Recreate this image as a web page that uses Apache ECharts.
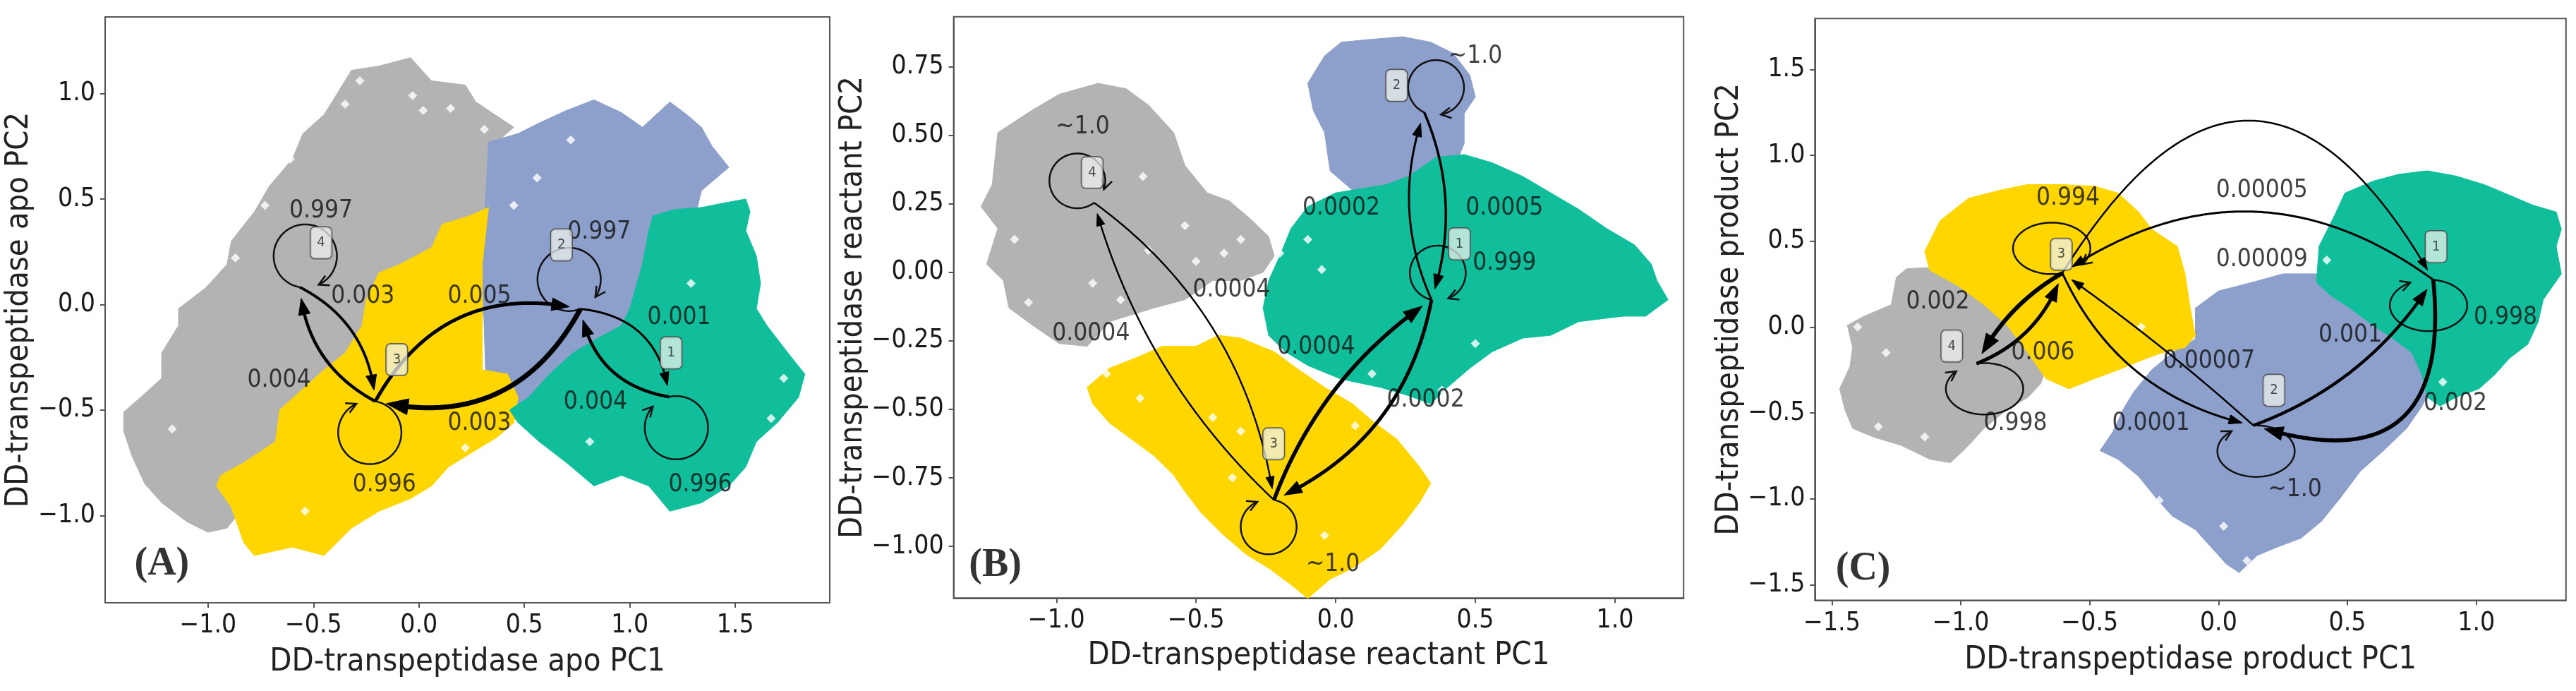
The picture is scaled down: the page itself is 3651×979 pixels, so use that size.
<!DOCTYPE html>
<html><head><meta charset="utf-8">
<script src="https://cdn.jsdelivr.net/npm/echarts@6/dist/echarts.min.js"></script>
<style>html,body{margin:0;padding:0;background:#fff;}#c{width:3651px;height:979px;}</style>
</head><body><div id="c"></div>
<script>
// ================= DATA =================
// ---- Panel A : apo ----
const aCloud4 = [[-1.40,-0.51],[-1.32,-0.44],[-1.22,-0.35],[-1.22,-0.23],[-1.14,-0.10],[-1.14,-0.02],[-1.01,0.08],[-0.91,0.19],[-0.89,0.30],[-0.78,0.44],[-0.71,0.56],[-0.60,0.69],[-0.55,0.81],[-0.45,0.90],[-0.40,0.98],[-0.32,1.11],[-0.19,1.13],[-0.04,1.17],[0.06,1.06],[0.22,1.04],[0.27,0.96],[0.39,0.88],[0.45,0.84],[0.37,0.77],[0.37,0.44],[0.32,-0.02],[0.06,-0.44],[-0.45,-0.65],[-0.83,-0.96],[-0.91,-1.06],[-1.00,-1.08],[-1.10,-1.03],[-1.22,-0.94],[-1.30,-0.85],[-1.36,-0.72],[-1.40,-0.60]];
const aCloud2 = [[0.33,0.77],[0.47,0.81],[0.57,0.86],[0.70,0.92],[0.83,0.97],[0.96,0.91],[1.06,0.84],[1.19,0.96],[1.27,0.90],[1.34,0.84],[1.39,0.75],[1.47,0.65],[1.34,0.54],[1.32,0.46],[1.24,-0.02],[0.96,-0.44],[0.57,-0.56],[0.43,-0.54],[0.32,-0.44],[0.30,0.19]];
const aCloud3 = [[0.33,0.46],[0.30,0.19],[0.30,-0.31],[0.42,-0.33],[0.47,-0.44],[0.45,-0.56],[0.37,-0.63],[0.27,-0.69],[0.14,-0.77],[0.06,-0.86],[-0.04,-0.92],[-0.19,-0.98],[-0.32,-1.06],[-0.45,-1.19],[-0.60,-1.15],[-0.78,-1.19],[-0.83,-1.13],[-0.89,-0.96],[-0.96,-0.86],[-0.94,-0.81],[-0.83,-0.75],[-0.68,-0.65],[-0.66,-0.50],[-0.55,-0.40],[-0.45,-0.31],[-0.35,-0.23],[-0.27,-0.10],[-0.25,0.02],[-0.19,0.15],[-0.09,0.19],[0.06,0.27],[0.11,0.38],[0.24,0.42]];
const aCloud1 = [[1.11,0.42],[1.21,0.45],[1.34,0.46],[1.44,0.48],[1.55,0.50],[1.57,0.44],[1.55,0.35],[1.60,0.23],[1.62,0.10],[1.60,-0.02],[1.65,-0.10],[1.75,-0.23],[1.83,-0.33],[1.80,-0.44],[1.70,-0.56],[1.60,-0.65],[1.55,-0.77],[1.47,-0.86],[1.34,-0.94],[1.19,-0.98],[1.09,-0.86],[0.96,-0.81],[0.83,-0.86],[0.70,-0.75],[0.57,-0.65],[0.47,-0.56],[0.43,-0.50],[0.52,-0.44],[0.62,-0.33],[0.73,-0.23],[0.83,-0.17],[0.96,-0.10],[1.00,-0.02],[1.06,0.19],[1.09,0.35]];
const aHoles = [[-0.28,1.06],[-0.35,0.95],[-0.03,0.99],[0.02,0.92],[0.15,0.93],[0.31,0.83],[-0.61,0.69],[-0.73,0.47],[-1.16,0.02],[-1.22,-0.19],[-1.29,-0.34],[-1.17,-0.59],[-0.87,0.22],[0.56,0.60],[0.45,0.47],[0.72,0.78],[1.29,0.10],[1.73,-0.35],[0.81,-0.65],[1.67,-0.54],[0.22,-0.68],[-0.54,-0.98]];
const aNodes = [[1.187,-0.438],[0.766,-0.021],[-0.207,-0.459],[-0.565,0.082]];
const aEdges = [[4,3],[3,4],[3,2],[2,3],[2,1],[1,2]];
const aEdgeProb = ['0.003','0.004','0.005','0.003','0.001','0.004'];
const aSelfProb = ['0.996','0.997','0.996','0.997'];
const aEdgeLabelPos = [[-0.266,0.038],[-0.663,-0.359],[0.287,0.038],[0.287,-0.564],[1.234,-0.063],[0.837,-0.463]];
const aSelfLabelPos = [[1.334,-0.856],[0.855,0.344],[-0.164,-0.856],[-0.464,0.443]];
const aBoxPos = [[1.196,-0.230],[0.676,0.282],[-0.105,-0.261],[-0.464,0.292]];
const aTicksX = [-1.0,-0.5,0.0,0.5,1.0,1.5];
const aTicksY = [-1.0,-0.5,0.0,0.5,1.0];

// ---- Panel B : reactant ----
const bCloud4 = [[-1.27,0.24],[-1.23,0.32],[-1.21,0.51],[-1.09,0.59],[-0.99,0.65],[-0.85,0.69],[-0.75,0.67],[-0.67,0.61],[-0.58,0.51],[-0.54,0.39],[-0.46,0.29],[-0.38,0.26],[-0.30,0.19],[-0.24,0.13],[-0.22,0.06],[-0.26,0.00],[-0.34,-0.03],[-0.44,-0.03],[-0.54,-0.10],[-0.65,-0.13],[-0.81,-0.18],[-0.89,-0.27],[-0.99,-0.26],[-1.09,-0.19],[-1.17,-0.13],[-1.19,-0.03],[-1.25,0.03],[-1.21,0.16]];
const bCloud2 = [[-0.10,0.69],[-0.04,0.79],[0.02,0.84],[0.12,0.85],[0.24,0.86],[0.34,0.84],[0.42,0.80],[0.48,0.72],[0.50,0.64],[0.46,0.58],[0.46,0.47],[0.44,0.42],[0.26,0.32],[0.14,0.29],[0.06,0.30],[-0.02,0.37],[-0.04,0.51],[-0.08,0.59]];
const bCloud3 = [[-0.89,-0.42],[-0.81,-0.35],[-0.71,-0.31],[-0.62,-0.27],[-0.50,-0.27],[-0.42,-0.23],[-0.34,-0.24],[-0.22,-0.29],[-0.14,-0.35],[-0.04,-0.42],[0.06,-0.48],[0.14,-0.55],[0.22,-0.61],[0.30,-0.71],[0.34,-0.77],[0.30,-0.84],[0.24,-0.92],[0.16,-1.01],[0.06,-1.08],[-0.02,-1.12],[-0.10,-1.19],[-0.16,-1.14],[-0.24,-1.08],[-0.32,-1.03],[-0.40,-0.96],[-0.48,-0.88],[-0.54,-0.80],[-0.58,-0.74],[-0.65,-0.67],[-0.73,-0.61],[-0.81,-0.55],[-0.87,-0.48]];
const bCloud1 = [[0.00,0.29],[0.18,0.32],[0.26,0.35],[0.36,0.42],[0.46,0.43],[0.56,0.40],[0.67,0.35],[0.77,0.29],[0.87,0.23],[0.97,0.16],[1.07,0.10],[1.13,0.03],[1.15,-0.03],[1.19,-0.10],[1.11,-0.16],[1.03,-0.16],[0.87,-0.18],[0.77,-0.23],[0.67,-0.24],[0.56,-0.29],[0.48,-0.35],[0.40,-0.42],[0.34,-0.48],[0.26,-0.45],[0.16,-0.42],[0.02,-0.39],[-0.10,-0.34],[-0.18,-0.29],[-0.24,-0.23],[-0.26,-0.13],[-0.24,-0.03],[-0.20,0.06],[-0.16,0.16],[-0.10,0.24]];
const bHoles = [[-1.15,0.12],[-0.69,0.35],[-0.87,-0.04],[-0.67,0.08],[-0.54,0.17],[-0.40,0.07],[-0.34,0.12],[-0.50,0.04],[-0.77,-0.10],[-1.10,-0.11],[-0.20,0.07],[-0.10,0.12],[-0.05,0.01],[0.50,-0.26],[0.13,-0.37],[0.38,-0.43],[-0.82,-0.37],[-0.70,-0.46],[-0.44,-0.53],[-0.34,-0.58],[-0.37,-0.75],[0.07,-0.56],[-0.04,-0.96]];
const bNodes = [[0.343,-0.100],[0.317,0.584],[-0.221,-0.831],[-0.865,0.254]];
const bEdges = [[2,1],[1,2],[3,1],[1,3],[4,3],[3,4]];
const bEdgeProb = ['0.0005','0.0002','0.0004','0.0002','0.0004','0.0004'];
const bSelfProb = ['0.999','~1.0','~1.0','~1.0'];
const bEdgeLabelPos = [[0.604,0.233],[0.020,0.233],[-0.070,-0.273],[0.322,-0.466],[-0.373,-0.064],[-0.876,-0.225]];
const bSelfLabelPos = [[0.604,0.032],[0.500,0.787],[-0.010,-1.068],[-0.906,0.530]];
const bBoxPos = [[0.443,0.104],[0.218,0.682],[-0.222,-0.626],[-0.872,0.364]];
const bTicksX = [-1.0,-0.5,0.0,0.5,1.0];
const bTicksY = [-1.0,-0.75,-0.5,-0.25,0.0,0.25,0.5,0.75];

// ---- Panel C : product ----
const cCloud4 = [[-1.44,0.01],[-1.38,0.06],[-1.27,0.13],[-1.25,0.29],[-1.21,0.34],[-1.08,0.35],[-0.95,0.26],[-0.82,0.11],[-0.71,-0.05],[-0.66,-0.20],[-0.69,-0.33],[-0.74,-0.41],[-0.82,-0.48],[-0.91,-0.59],[-0.97,-0.69],[-1.04,-0.79],[-1.12,-0.77],[-1.23,-0.69],[-1.34,-0.64],[-1.42,-0.59],[-1.45,-0.48],[-1.47,-0.36],[-1.43,-0.23],[-1.42,-0.12]];
const cCloud2 = [[-0.33,-0.38],[-0.26,-0.25],[-0.18,-0.15],[-0.09,-0.07],[-0.09,0.11],[0.00,0.21],[0.13,0.26],[0.25,0.31],[0.38,0.31],[0.60,0.06],[0.77,-0.15],[0.83,-0.33],[0.79,-0.46],[0.73,-0.59],[0.64,-0.72],[0.55,-0.84],[0.47,-1.00],[0.40,-1.13],[0.32,-1.23],[0.23,-1.28],[0.15,-1.33],[0.08,-1.43],[0.03,-1.38],[-0.03,-1.28],[-0.09,-1.18],[-0.18,-1.10],[-0.24,-1.00],[-0.31,-0.87],[-0.39,-0.77],[-0.46,-0.72],[-0.41,-0.61],[-0.37,-0.48]];
const cCloud3 = [[-1.14,0.44],[-1.08,0.62],[-0.97,0.75],[-0.84,0.80],[-0.74,0.83],[-0.61,0.83],[-0.48,0.82],[-0.39,0.78],[-0.31,0.67],[-0.26,0.57],[-0.16,0.47],[-0.13,0.31],[-0.11,0.11],[-0.09,-0.05],[-0.13,-0.12],[-0.22,-0.15],[-0.31,-0.20],[-0.39,-0.25],[-0.48,-0.30],[-0.58,-0.36],[-0.67,-0.30],[-0.74,-0.15],[-0.82,0.01],[-0.91,0.13],[-1.01,0.24],[-1.12,0.33]];
const cCloud1 = [[0.38,0.26],[0.39,0.47],[0.45,0.65],[0.49,0.78],[0.60,0.85],[0.70,0.89],[0.81,0.91],[0.92,0.88],[1.03,0.83],[1.11,0.78],[1.22,0.71],[1.31,0.67],[1.33,0.57],[1.31,0.47],[1.33,0.31],[1.26,0.16],[1.24,0.03],[1.20,-0.10],[1.13,-0.18],[1.07,-0.28],[1.01,-0.36],[0.92,-0.41],[0.86,-0.46],[0.81,-0.41],[0.79,-0.28],[0.75,-0.15],[0.68,-0.07],[0.60,0.01],[0.51,0.11],[0.43,0.19]];
const cHoles = [[-0.30,0.00],[-0.13,0.46],[-0.23,-1.01],[0.02,-1.16],[0.11,-1.36],[0.61,-0.99],[0.42,0.39],[0.87,-0.32],[-1.40,0.00],[-1.29,-0.15],[-1.32,-0.58],[-1.14,-0.64]];
const cNodes = [[0.833,0.275],[0.135,-0.573],[-0.606,0.314],[-0.939,-0.213]];
const cEdges = [[3,1],[1,3],[3,2],[2,3],[2,1],[1,2],[3,4],[4,3]];
const cEdgeProb = ['0.00005','0.00009','0.0001','0.00007','0.001','0.002','0.002','0.006'];
const cSelfProb = ['0.998','~1.0','0.994','0.998'];
const cEdgeLabelPos = [[0.168,0.797],[0.168,0.391],[-0.262,-0.560],[-0.037,-0.201],[0.511,-0.046],[0.919,-0.445],[-1.089,0.147],[-0.681,-0.149]];
const cSelfLabelPos = [[1.113,0.057],[0.296,-0.946],[-0.584,0.751],[-0.788,-0.560]];
const cBoxPos = [[0.844,0.468],[0.215,-0.368],[-0.610,0.424],[-1.035,-0.111]];
const cTicksX = [-1.5,-1.0,-0.5,0.0,0.5,1.0];
const cTicksY = [-1.5,-1.0,-0.5,0.0,0.5,1.0,1.5];

const stateNames = ['1','2','3','4'];
const panelNames = ['(A)','(B)','(C)'];
const panelNamePos = [[-1.219,-1.232],[-1.219,-1.070],[-1.379,-1.409]];

// ================= STYLE =================
const COL = {1:'#10be9c', 2:'#8da0cb', 3:'#ffd600', 4:'#b3b3b3'};
const FONT = "'DejaVu Sans Condensed','Liberation Sans',sans-serif";
const aEdgeBend = [0.28,0.27,0.37,0.38,0.40,0.35], aEdgeWidth = [3.8,4.4,5,7,3,4.4], aLoopDir = [77,-111,100,-80], aLoopR = 0.15;
const bEdgeBend = [0.19,0.20,0.16,0.26,0.21,0.14], bEdgeWidth = [3.5,3,5.5,5,2.4,2.4], bLoopDir = [-77,-65,101,-127], bLoopR = 0.10;
const cEdgeBend = [0.84,-0.35,-0.25,-0.03,-0.17,0.76,-0.15,-0.23], cEdgeWidth = [2.5,3,3,2.5,4.4,5.6,6,5], cLoopDir = [97,86,-106,78], cLoopR = 0.15;

// ================= HELPERS =================
function cloudSeries(gi, poly, color){
  return {type:'custom', xAxisIndex:gi, yAxisIndex:gi, z:1, silent:true, animation:false,
    dimensions:['x','y'], encode:{x:0,y:1}, data:poly,
    renderItem:(params, api)=>{
      if(params.dataIndex!==0) return null;
      return {type:'polygon', shape:{points:poly.map(p=>api.coord(p))}, style:{fill:color, stroke:color, lineWidth:1}};
    }};
}
function holeSeries(gi, pts){
  return {type:'scatter', xAxisIndex:gi, yAxisIndex:gi, z:2, silent:true, animation:false,
    symbol:'diamond', symbolSize:13, itemStyle:{color:'#fff'}, data:pts};
}
function bez(p0,c,p2,t){const u=1-t;return [u*u*p0[0]+2*u*t*c[0]+t*t*p2[0], u*u*p0[1]+2*u*t*c[1]+t*t*p2[1]];}
function edgeSeries(gi, nodes, edges, bend, width){
  return {type:'custom', xAxisIndex:gi, yAxisIndex:gi, z:4, silent:true, animation:false,
    dimensions:['x1','y1','x2','y2'], encode:{x:[0,2], y:[1,3]},
    data: edges.map(e=>[nodes[e[0]-1][0],nodes[e[0]-1][1],nodes[e[1]-1][0],nodes[e[1]-1][1]]),
    renderItem:(params, api)=>{
      const i=params.dataIndex;
      const p0=api.coord([api.value(0),api.value(1)]);
      const p2=api.coord([api.value(2),api.value(3)]);
      const rad=bend[i], w=width[i];
      const dx=p2[0]-p0[0], dy=p2[1]-p0[1];
      const c=[(p0[0]+p2[0])/2+rad*dy,(p0[1]+p2[1])/2-rad*dx];
      const N=200, pts=[];
      for(let k=0;k<=N;k++) pts.push(bez(p0,c,p2,k/N));
      const shrink=16, hl=10+3*w, hw=3+1.2*w;
      function pointAt(dist){let acc=0;for(let k=N;k>0;k--){const a=pts[k],b=pts[k-1];const s=Math.hypot(a[0]-b[0],a[1]-b[1]);if(acc+s>=dist){const f=(dist-acc)/(s||1);return {idx:k-1,p:[a[0]+(b[0]-a[0])*f,a[1]+(b[1]-a[1])*f]};}acc+=s;}return {idx:0,p:pts[0]};}
      const tip=pointAt(shrink), base=pointAt(shrink+hl);
      const ux=tip.p[0]-base.p[0], uy=tip.p[1]-base.p[1], L=Math.hypot(ux,uy)||1;
      const nx=-uy/L, ny=ux/L;
      const line=pts.slice(0,base.idx+1); line.push([base.p[0]+ux/L*2, base.p[1]+uy/L*2]);
      return {type:'group', children:[
        {type:'polyline', shape:{points:line}, style:{stroke:'#000', lineWidth:w, fill:null, lineJoin:'round'}},
        {type:'polygon', shape:{points:[tip.p,[base.p[0]+nx*hw,base.p[1]+ny*hw],[base.p[0]-nx*hw,base.p[1]-ny*hw]]}, style:{fill:'#000', stroke:'#000', lineWidth:1}}
      ]};
    }};
}
function loopSeries(gi, nodes, dirs, r){
  return {type:'custom', xAxisIndex:gi, yAxisIndex:gi, z:4, silent:true, animation:false,
    dimensions:['x','y'], encode:{x:0,y:1}, data:nodes.map(n=>[n[0],n[1]]),
    renderItem:(params, api)=>{
      const i=params.dataIndex;
      const np=api.coord([api.value(0),api.value(1)]);
      const sz=api.size([r,r],[api.value(0),api.value(1)]);
      const rx=Math.abs(sz[0]), ry=Math.abs(sz[1]);
      const phi=dirs[i]*Math.PI/180;
      const cx=np[0]+rx*Math.cos(phi), cy=np[1]+ry*Math.sin(phi);
      const th0=phi+Math.PI, sweep=325*Math.PI/180, N=90, pts=[];
      for(let k=0;k<=N;k++){const th=th0+sweep*k/N;pts.push([cx+rx*Math.cos(th),cy+ry*Math.sin(th)]);}
      const the=th0+sweep; let tx=-rx*Math.sin(the), ty=ry*Math.cos(the); const L=Math.hypot(tx,ty); tx/=L; ty/=L;
      const tip=pts[N], hl=16, a=28*Math.PI/180;
      const h1=[tip[0]-hl*(tx*Math.cos(a)-ty*Math.sin(a)), tip[1]-hl*(tx*Math.sin(a)+ty*Math.cos(a))];
      const h2=[tip[0]-hl*(tx*Math.cos(a)+ty*Math.sin(a)), tip[1]-hl*(-tx*Math.sin(a)+ty*Math.cos(a))];
      return {type:'group', children:[
        {type:'polyline', shape:{points:pts}, style:{stroke:'#111', lineWidth:2.5, fill:null}},
        {type:'polyline', shape:{points:[h1,tip,h2]}, style:{stroke:'#111', lineWidth:2.5, fill:null}}
      ]};
    }};
}
function textSeries(gi, pos, texts, style, z){
  return {type:'scatter', xAxisIndex:gi, yAxisIndex:gi, z:z, silent:true, animation:false,
    symbol:'circle', symbolSize:1, itemStyle:{color:'rgba(0,0,0,0)'},
    data:pos.map(p=>[p[0],p[1]]),
    label:Object.assign({show:true, position:'inside', formatter:p=>texts[p.dataIndex]}, style)};
}
const edgeLabelStyle = {fontSize:35, color:'#111', fontFamily:FONT};
const boxStyle = {fontSize:20, color:'#222', fontFamily:FONT, backgroundColor:'rgba(238,241,238,0.92)', borderColor:'#444', borderWidth:1.5, borderRadius:6, padding:[12,9]};
const panelStyle = {fontSize:56, fontWeight:'bold', color:'#000', fontFamily:"'Liberation Serif','DejaVu Serif',serif"};

function fmt(dec){return v=>v.toFixed(dec).replace('-','\u2212');}
function xAxisCfg(gi,min,max,ticks,name,gap){
  return {type:'value', gridIndex:gi, min:min, max:max, name:name, nameLocation:'middle', nameGap:gap,
    nameTextStyle:{fontSize:45, color:'#222', fontFamily:FONT},
    axisLine:{show:true, onZero:false, lineStyle:{color:'#555', width:2}},
    axisTick:{show:true, inside:false, length:7, lineStyle:{color:'#555', width:2}, customValues:ticks},
    axisLabel:{show:true, customValues:ticks, formatter:fmt(1), fontSize:37, margin:14, color:'#1a1a1a', fontFamily:FONT},
    splitLine:{show:false}};
}
function yAxisCfg(gi,min,max,ticks,dec,name,gap){
  return {type:'value', gridIndex:gi, min:min, max:max, name:name, nameLocation:'middle', nameGap:gap, nameRotate:90,
    nameTextStyle:{fontSize:45, color:'#222', fontFamily:FONT},
    axisLine:{show:true, onZero:false, lineStyle:{color:'#555', width:2}},
    axisTick:{show:true, inside:false, length:7, lineStyle:{color:'#555', width:2}, customValues:ticks},
    axisLabel:{show:true, customValues:ticks, formatter:fmt(dec), fontSize:37, margin:14, color:'#1a1a1a', fontFamily:FONT},
    splitLine:{show:false}};
}
function panel(gi, clouds, holes, nodes, edges, eProb, sProb, ePos, sPos, bPos, bend, width, ldir, lr){
  return [
    cloudSeries(gi, clouds[3], COL[4]),
    cloudSeries(gi, clouds[1], COL[2]),
    cloudSeries(gi, clouds[2], COL[3]),
    cloudSeries(gi, clouds[0], COL[1]),
    holeSeries(gi, holes),
    loopSeries(gi, nodes, ldir, lr),
    edgeSeries(gi, nodes, edges, bend, width),
    textSeries(gi, ePos, eProb, edgeLabelStyle, 6),
    textSeries(gi, sPos, sProb, edgeLabelStyle, 6),
    textSeries(gi, bPos, stateNames, boxStyle, 7),
    textSeries(gi, [panelNamePos[gi]], [panelNames[gi]], panelStyle, 7)
  ];
}

const chart = echarts.init(document.getElementById('c'), null, {renderer:'canvas'});
chart.setOption({
  animation:false, backgroundColor:'#fff',
  grid:[
    {left:149, top:24, width:1027, height:830, show:true, borderColor:'#555', borderWidth:2, backgroundColor:'#fff'},
    {left:1351.6, top:23.7, width:1034.6, height:823.6, show:true, borderColor:'#555', borderWidth:2, backgroundColor:'#fff'},
    {left:2572.3, top:26.2, width:1064.5, height:824.2, show:true, borderColor:'#555', borderWidth:2, backgroundColor:'#fff'}
  ],
  xAxis:[
    xAxisCfg(0,-1.488,1.948,aTicksX,'DD-transpeptidase apo PC1',62),
    xAxisCfg(1,-1.368,1.2456,bTicksX,'DD-transpeptidase reactant PC1',60),
    xAxisCfg(2,-1.566,1.348,cTicksX,'DD-transpeptidase product PC1',62)
  ],
  yAxis:[
    yAxisCfg(0,-1.414,1.363,aTicksY,1,'DD-transpeptidase apo PC2',96),
    yAxisCfg(1,-1.189,0.933,bTicksY,2,'DD-transpeptidase reactant PC2',109),
    yAxisCfg(2,-1.591,1.797,cTicksY,1,'DD-transpeptidase product PC2',98)
  ],
  series:[].concat(
    panel(0,[aCloud1,aCloud2,aCloud3,aCloud4],aHoles,aNodes,aEdges,aEdgeProb,aSelfProb,aEdgeLabelPos,aSelfLabelPos,aBoxPos,aEdgeBend,aEdgeWidth,aLoopDir,aLoopR),
    panel(1,[bCloud1,bCloud2,bCloud3,bCloud4],bHoles,bNodes,bEdges,bEdgeProb,bSelfProb,bEdgeLabelPos,bSelfLabelPos,bBoxPos,bEdgeBend,bEdgeWidth,bLoopDir,bLoopR),
    panel(2,[cCloud1,cCloud2,cCloud3,cCloud4],cHoles,cNodes,cEdges,cEdgeProb,cSelfProb,cEdgeLabelPos,cSelfLabelPos,cBoxPos,cEdgeBend,cEdgeWidth,cLoopDir,cLoopR)
  )
});
</script></body></html>
